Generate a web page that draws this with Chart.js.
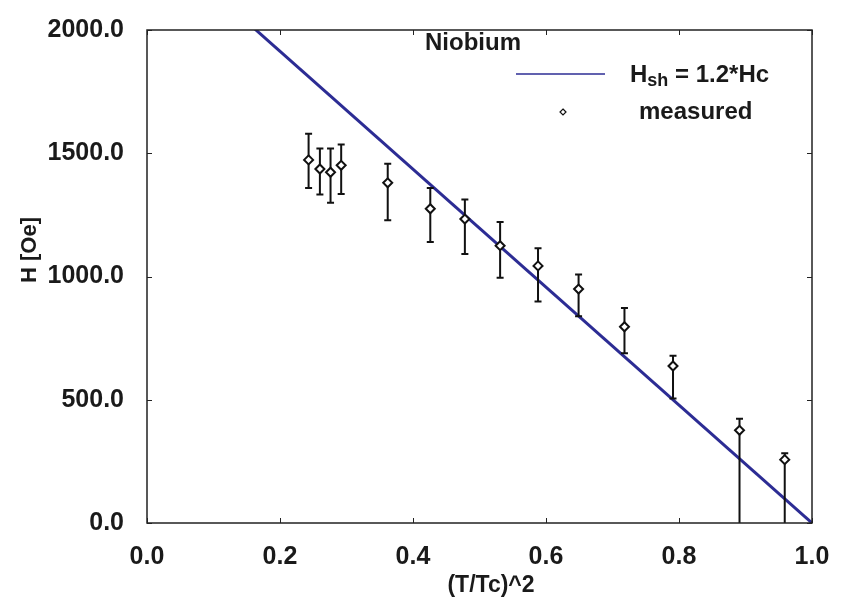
<!DOCTYPE html>
<html>
<head>
<meta charset="utf-8">
<script src="https://cdn.jsdelivr.net/npm/chart.js@4.4.1/dist/chart.umd.min.js"></script>
<style>
  html, body { margin: 0; padding: 0; background: #fff; }
  #wrap { width: 847px; height: 603px; }
</style>
</head>
<body>
<div id="wrap"><canvas id="c" width="847" height="603"></canvas></div>
<script>
// measured points: (T/Tc)^2 and field in Oe
const tSq = [0.243, 0.260, 0.276, 0.292, 0.362, 0.426, 0.478, 0.531, 0.588, 0.649, 0.718, 0.791, 0.891, 0.959];
const hMeas = [1473, 1436, 1423, 1451, 1380, 1275, 1233, 1125, 1043, 949, 796, 637, 376, 257];
const hHigh = [1579, 1519, 1519, 1535, 1457, 1359, 1312, 1221, 1115, 1008, 872, 679, 423, 283];
const hLow  = [1359, 1333, 1299, 1335, 1228, 1140, 1091, 995, 899, 839, 689, 505, 0, 0];

// Hsh = 1.2*Hc line
const lineX = [0.0, 1.0];
const lineY = [2392, 0];

const xTicks = [0.0, 0.2, 0.4, 0.6, 0.8, 1.0];
const yTicks = [0, 500, 1000, 1500, 2000];

const FONT = '"Liberation Sans", Arial, sans-serif';
const TXT = '#1a1a1a';
const lineColor = '#2c2c94';

const errorBars = {
  id: 'errorBars',
  beforeDatasetDraw(chart, args) {
    if (args.index !== 1) return;
    const { ctx, scales: { x, y } } = chart;
    ctx.save();
    ctx.strokeStyle = '#111';
    ctx.lineWidth = 2;
    tSq.forEach((t, i) => {
      const px = x.getPixelForValue(t);
      const top = y.getPixelForValue(hHigh[i]);
      const bot = y.getPixelForValue(hLow[i]);
      ctx.beginPath();
      ctx.moveTo(px, top); ctx.lineTo(px, bot);
      ctx.moveTo(px - 3.5, top); ctx.lineTo(px + 3.5, top);
      if (hLow[i] > 0) { ctx.moveTo(px - 3.5, bot); ctx.lineTo(px + 3.5, bot); }
      ctx.stroke();
    });
    ctx.restore();
  }
};

const frame = {
  id: 'frame',
  afterDraw(chart) {
    const { ctx, chartArea: a, scales: { x, y } } = chart;
    ctx.save();
    ctx.strokeStyle = '#222';
    ctx.lineWidth = 1.5;
    ctx.strokeRect(a.left, a.top, a.right - a.left, a.bottom - a.top);
    ctx.lineWidth = 1;
    ctx.beginPath();
    xTicks.forEach(v => {
      const px = Math.round(x.getPixelForValue(v)) + 0.5;
      ctx.moveTo(px, a.bottom); ctx.lineTo(px, a.bottom - 5);
      ctx.moveTo(px, a.top); ctx.lineTo(px, a.top + 5);
    });
    yTicks.forEach(v => {
      const py = Math.round(y.getPixelForValue(v)) + 0.5;
      ctx.moveTo(a.left, py); ctx.lineTo(a.left + 5, py);
      ctx.moveTo(a.right, py); ctx.lineTo(a.right - 5, py);
    });
    ctx.stroke();

    // axis titles
    ctx.fillStyle = TXT;
    ctx.textBaseline = 'middle';
    ctx.textAlign = 'center';
    ctx.font = 'bold 23px ' + FONT;
    ctx.fillText('(T/Tc)^2', 491, 586);
    ctx.save();
    ctx.translate(30, 250);
    ctx.rotate(-Math.PI / 2);
    ctx.font = 'bold 22px ' + FONT;
    ctx.fillText('H [Oe]', 0, 0);
    ctx.restore();

    // legend
    ctx.textAlign = 'left';
    ctx.font = 'bold 24px ' + FONT;
    ctx.fillText('Niobium', 425, 43);

    ctx.strokeStyle = lineColor;
    ctx.lineWidth = 1.5;
    ctx.beginPath();
    ctx.moveTo(516, 74); ctx.lineTo(605, 74);
    ctx.stroke();

    ctx.font = 'bold 24px ' + FONT;
    ctx.fillText('H', 630, 75);
    const hw = ctx.measureText('H').width;
    ctx.font = 'bold 18px ' + FONT;
    ctx.fillText('sh', 630 + hw, 81);
    const sw = ctx.measureText('sh').width;
    ctx.font = 'bold 24px ' + FONT;
    ctx.fillText(' = 1.2*Hc', 630 + hw + sw, 75);

    ctx.fillText('measured', 639, 112);
    ctx.strokeStyle = '#111';
    ctx.fillStyle = '#fff';
    ctx.lineWidth = 1.2;
    ctx.beginPath();
    ctx.moveTo(563, 109); ctx.lineTo(566, 112); ctx.lineTo(563, 115); ctx.lineTo(560, 112); ctx.closePath();
    ctx.fill(); ctx.stroke();
    ctx.restore();
  }
};

new Chart(document.getElementById('c'), {
  type: 'scatter',
  data: {
    datasets: [
      {
        type: 'line',
        data: lineX.map((v, i) => ({ x: v, y: lineY[i] })),
        borderColor: lineColor,
        borderWidth: 3,
        pointRadius: 0,
        fill: false,
        order: 2
      },
      {
        data: tSq.map((v, i) => ({ x: v, y: hMeas[i] })),
        pointStyle: 'rectRot',
        pointRadius: 4.5,
        pointBorderWidth: 2,
        pointBorderColor: '#111',
        pointBackgroundColor: '#fff',
        order: 1
      }
    ]
  },
  options: {
    responsive: false,
    animation: false,
    layout: { padding: { left: 0, top: 23, right: 35, bottom: 0 } },
    plugins: { legend: { display: false }, tooltip: { enabled: false } },
    scales: {
      x: {
        type: 'linear', min: 0, max: 1,
        afterFit: s => { s.height = 80; },
        afterBuildTicks: s => { s.ticks = xTicks.map(v => ({ value: v })); },
        grid: { display: false },
        border: { display: false },
        ticks: {
          padding: 11,
          color: TXT,
          font: { family: FONT, size: 25, weight: 'bold' },
          callback: v => v.toFixed(1)
        }
      },
      y: {
        type: 'linear', min: 0, max: 2000,
        afterFit: s => { s.width = 147; },
        afterBuildTicks: s => { s.ticks = yTicks.map(v => ({ value: v })); },
        grid: { display: false },
        border: { display: false },
        ticks: {
          padding: 15,
          color: TXT,
          font: { family: FONT, size: 25, weight: 'bold' },
          callback: v => v.toFixed(1)
        }
      }
    }
  },
  plugins: [errorBars, frame]
});
</script>
</body>
</html>
